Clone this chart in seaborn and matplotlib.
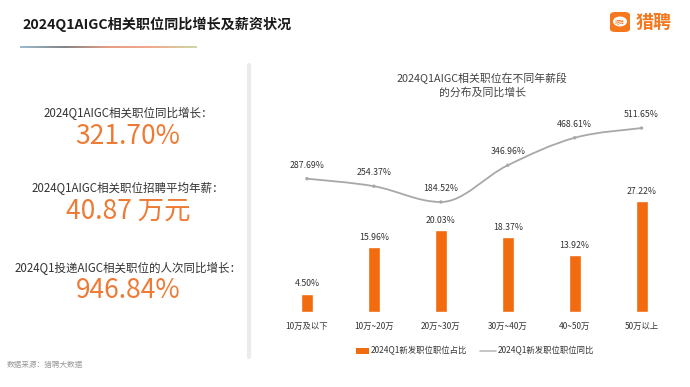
import numpy as np
import pandas as pd
import matplotlib
matplotlib.use("Agg")
import matplotlib.pyplot as plt
import seaborn as sns
from matplotlib.path import Path
from matplotlib.patches import PathPatch, FancyBboxPatch
from matplotlib.collections import LineCollection

# ---- data ----
categories = ["10万及以下", "10万~20万", "20万~30万", "30万~40万", "40~50万", "50万以上"]
share = [4.50, 15.96, 20.03, 18.37, 13.92, 27.22]
yoy = [287.69, 254.37, 184.52, 346.96, 468.61, 511.65]
kpi_labels = ["2024Q1AIGC相关职位同比增长：", "2024Q1AIGC相关职位招聘平均年薪：",
              "2024Q1投递AIGC相关职位的人次同比增长："]
kpi_values = ["321.70%", "40.87 万元", "946.84%"]
title = "2024Q1AIGC相关职位同比增长及薪资状况"
chart_title = "2024Q1AIGC相关职位在不同年薪段\n的分布及同比增长"
legend_bar = "2024Q1新发职位职位占比"
legend_line = "2024Q1新发职位职位同比"
source = "数据来源：猎聘大数据"

sns.set_theme(style="white")
plt.rcParams['font.family'] = ['Noto Sans CJK SC', 'DejaVu Sans']

W, H = 690, 387
fig = plt.figure(figsize=(W / 100, H / 100), dpi=100)
fig.patch.set_facecolor("white")

def fx(px):
    return px / W

def fy(py):
    return 1 - py / H

ORANGE = "#F26B0F"
KPI = "#EE7B35"
TXT = "#333333"

# title
fig.text(fx(22), fy(24), title, fontsize=10.2, fontweight="bold", color="#1a1a1a",
         va="center", ha="left")
# gradient underline
xs = np.linspace(fx(20), fx(197), 60)
segs = [[(xs[i], fy(46.5)), (xs[i + 1], fy(46.5))] for i in range(len(xs) - 1)]
cmap = matplotlib.colors.LinearSegmentedColormap.from_list(
    "u", ["#8FB3C9", "#777777", "#E3937A", "#F0A080", "#C9D39A"])
lc = LineCollection(segs, colors=cmap(np.linspace(0, 1, len(segs))), linewidths=1.3,
                    transform=fig.transFigure)
fig.add_artist(lc)

# logo
logo = FancyBboxPatch((fx(610), fy(32)), fx(20), fy(12) - fy(32),
                      boxstyle="round,pad=0,rounding_size=0.008",
                      transform=fig.transFigure, facecolor="#F5781F", edgecolor="none")
fig.add_artist(logo)
fig.patches.append(matplotlib.patches.Ellipse((fx(620), fy(21.5)), fx(14), fy(12) - fy(22),
                                              transform=fig.transFigure, facecolor="white",
                                              edgecolor="none"))
fig.text(fx(620), fy(21.5), "猎聘", fontsize=3.5, color="#F5781F", ha="center", va="center")
fig.text(fx(636), fy(22), "猎聘", fontsize=13, fontweight="bold", color="#F5781F",
         ha="left", va="center")

# divider
fig.add_artist(plt.Line2D([fx(249), fx(249)], [fy(65), fy(357)], color="#EBEBEB",
                          linewidth=3, transform=fig.transFigure))

# KPIs
label_y = [113, 188, 268]
value_y = [137, 211, 291]
for lab, val, ly, vy in zip(kpi_labels, kpi_values, label_y, value_y):
    fig.text(fx(128), fy(ly), lab, fontsize=8.3, color=TXT, ha="center", va="center")
    fig.text(fx(128), fy(vy), val, fontsize=19, color=KPI, ha="center", va="center")

# source
fig.text(fx(7), fy(365), source, fontsize=5.5, color="#999999", ha="left", va="center")

# chart axes
left, right = 273.5, 675.0
top, bottom = 120.0, 312.0
ax = fig.add_axes([fx(left), fy(bottom), fx(right - left), (bottom - top) / H])
df = pd.DataFrame({"cat": categories, "share": share, "yoy": yoy})
sns.barplot(data=df, x="cat", y="share", color=ORANGE, saturation=1, width=0.18, ax=ax)
ax.set_ylim(0, 47.06)
ax.set_xlim(-0.5, 5.5)
for i, v in enumerate(share):
    ax.text(i, v + 1.3, f"{v:.2f}%", ha="center", va="bottom", fontsize=6.3, color=TXT)
ax.set_xlabel("")
ax.set_ylabel("")
ax.set_yticks([])
ax.tick_params(axis="x", length=0, pad=7, labelsize=6, labelcolor=TXT)
for s in ax.spines.values():
    s.set_visible(False)
ax.patch.set_alpha(0)

ax2 = ax.twinx()
ax2.set_ylim(-302.2, 547.3)
ax2.set_xlim(-0.5, 5.5)
# smooth curve (Catmull-Rom style bezier) through the data points
px = np.arange(len(yoy), dtype=float)
py = np.array(yoy, dtype=float)
verts = [(px[0], py[0])]
codes = [Path.MOVETO]
t = 0.35
for i in range(len(px) - 1):
    p0 = (px[max(i - 1, 0)], py[max(i - 1, 0)])
    p1 = (px[i], py[i])
    p2 = (px[i + 1], py[i + 1])
    p3 = (px[min(i + 2, len(px) - 1)], py[min(i + 2, len(px) - 1)])
    c1 = (p1[0] + (p2[0] - p0[0]) * t / 2, p1[1] + (p2[1] - p0[1]) * t / 2)
    c2 = (p2[0] - (p3[0] - p1[0]) * t / 2, p2[1] - (p3[1] - p1[1]) * t / 2)
    if i == 2:
        c1 = (p1[0] + 0.35, p1[1])
    if i == 1:
        c2 = (p2[0] - 0.35, p2[1])
    verts += [c1, c2, p2]
    codes += [Path.CURVE4] * 3
ax2.add_patch(PathPatch(Path(verts, codes), facecolor="none", edgecolor="#A8A8A8",
                        linewidth=1.3))
sns.scatterplot(x=px, y=py, ax=ax2, color="#A8A8A8", s=6, edgecolor="none", zorder=5)
for i, v in enumerate(yoy):
    ax2.text(i, v + 40, f"{v:.2f}%", ha="center", va="bottom", fontsize=6.3, color=TXT)
ax2.set_yticks([])
ax2.set_ylabel("")
for s in ax2.spines.values():
    s.set_visible(False)

# chart title
fig.text(fx(482), fy(85), chart_title, fontsize=7.8, color="#444444", ha="center",
         va="center", linespacing=1.3)

# legend
fig.patches.append(matplotlib.patches.Rectangle((fx(356), fy(354)), fx(13), fy(348) - fy(354),
                                                transform=fig.transFigure, facecolor=ORANGE,
                                                edgecolor="none"))
fig.text(fx(371), fy(351), legend_bar, fontsize=6, color=TXT, ha="left", va="center")
fig.add_artist(plt.Line2D([fx(480), fx(496)], [fy(351), fy(351)], color="#BBBBBB",
                          linewidth=1.2, transform=fig.transFigure))
fig.text(fx(498), fy(351), legend_line, fontsize=6, color=TXT, ha="left", va="center")

fig.savefig("out.png", dpi=100, facecolor="white")
